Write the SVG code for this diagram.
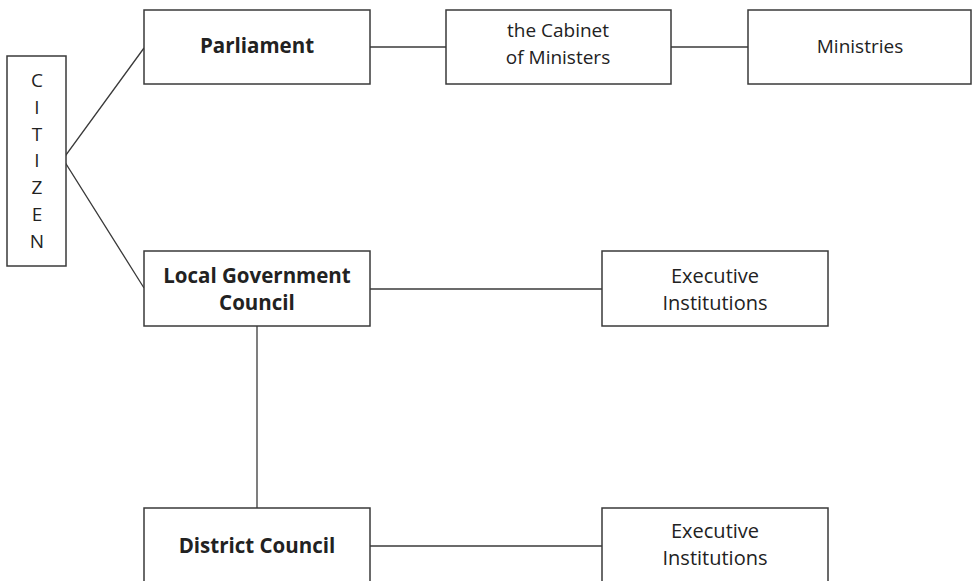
<svg xmlns="http://www.w3.org/2000/svg" width="973" height="581" viewBox="0 0 973 581">
<style>
.box{fill:#fff;stroke:#3a3a3a;stroke-width:1.5}
.ln{fill:none;stroke:#3a3a3a;stroke-width:1.3}
text{font-family:"Open Sans","Noto Sans","Liberation Sans",sans-serif;font-size:19px;fill:#222;text-anchor:middle}
.b{font-weight:bold;font-size:20.5px}
.w{font-size:20px}
</style>
<rect width="973" height="581" fill="#fff"/>
<g id="connectors">
<path class="ln" d="M144,48 L63,159 L144,288"/>
<line class="ln" x1="370" y1="47" x2="446" y2="47"/>
<line class="ln" x1="671" y1="47" x2="748" y2="47"/>
<line class="ln" x1="370" y1="289" x2="602" y2="289"/>
<line class="ln" x1="257" y1="326" x2="257" y2="508"/>
<line class="ln" x1="370" y1="546" x2="602" y2="546"/>
</g>
<g id="citizen">
<rect class="box" x="7" y="56" width="59" height="210"/>
<text x="37" y="87">C</text>
<text x="37" y="114">I</text>
<text x="37" y="141">T</text>
<text x="37" y="167">I</text>
<text x="37" y="194">Z</text>
<text x="37" y="221">E</text>
<text x="37" y="248">N</text>
</g>
<g id="parliament">
<rect class="box" x="144" y="10" width="226" height="74"/>
<text class="b" x="257" y="53">Parliament</text>
</g>
<g id="cabinet">
<rect class="box" x="446" y="10" width="225" height="74"/>
<text x="558" y="37">the Cabinet</text>
<text x="558" y="64">of Ministers</text>
</g>
<g id="ministries">
<rect class="box" x="748" y="10" width="223" height="74"/>
<text x="860" y="53">Ministries</text>
</g>
<g id="local-government-council">
<rect class="box" x="144" y="251" width="226" height="75"/>
<text class="b" x="257" y="283">Local Government</text>
<text class="b" x="257" y="310">Council</text>
</g>
<g id="executive-institutions-1">
<rect class="box" x="602" y="251" width="226" height="75"/>
<text class="w" x="715" y="283">Executive</text>
<text class="w" x="715" y="310">Institutions</text>
</g>
<g id="district-council">
<rect class="box" x="144" y="508" width="226" height="90"/>
<text class="b" x="257" y="553">District Council</text>
</g>
<g id="executive-institutions-2">
<rect class="box" x="602" y="508" width="226" height="90"/>
<text class="w" x="715" y="538">Executive</text>
<text class="w" x="715" y="565">Institutions</text>
</g>
</svg>
